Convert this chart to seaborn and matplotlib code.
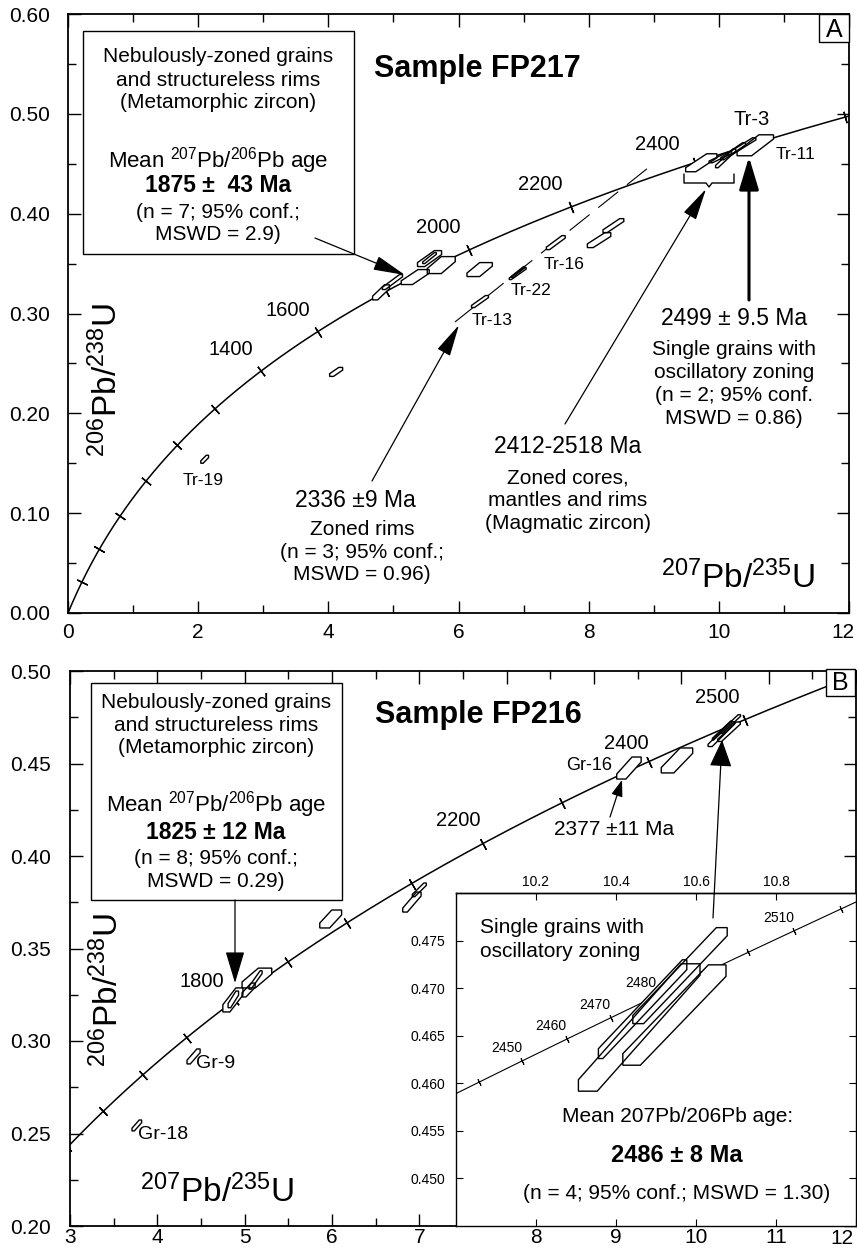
import numpy as np
import pandas as pd
import matplotlib
matplotlib.use("Agg")
import matplotlib.pyplot as plt
import seaborn as sns
from matplotlib.patches import Polygon, Rectangle, FancyArrowPatch, ArrowStyle
from matplotlib.lines import Line2D
from matplotlib.transforms import IdentityTransform

# ---------------------------------------------------------------- data
L238 = 1.55125e-10   # decay constants (1/yr)
L235 = 9.8485e-10

ticks_A = list(range(200, 2800, 200))        # concordia age marks (Ma)
labels_A = [1400, 1600, 2000, 2200, 2400]
ticks_B = list(range(1300, 2800, 100))
labels_B = [1800, 2200, 2400, 2500]
ticks_in = list(range(2420, 2550, 10))
labels_in = [2450, 2460, 2470, 2480, 2510]

# Panel A grains (FP217): 207Pb/235U range, 206Pb/238U range, corner cuts
A_x0 = [2.04, 4.02, 4.68, 4.83, 5.12, 5.37, 5.45, 5.52, 6.13, 6.20, 6.78, 6.81, 7.35, 7.98, 8.22, 9.49, 9.85, 9.95, 10.03, 10.15, 10.28]
A_x1 = [2.16, 4.22, 4.94, 5.14, 5.55, 5.74, 5.66, 5.95, 6.52, 6.46, 7.04, 7.02, 7.64, 8.34, 8.54, 9.97, 10.20, 10.26, 10.41, 10.57, 10.84]
A_y0 = [0.150, 0.237, 0.3136, 0.324, 0.329, 0.347, 0.350, 0.340, 0.337, 0.306, 0.334, 0.336, 0.364, 0.366, 0.381, 0.442, 0.451, 0.446, 0.454, 0.459, 0.458]
A_y1 = [0.158, 0.246, 0.3287, 0.339, 0.344, 0.363, 0.361, 0.357, 0.351, 0.318, 0.346, 0.347, 0.378, 0.381, 0.395, 0.460, 0.462, 0.465, 0.471, 0.476, 0.479]
A_a = [0.6, 0.6, 0.5, 0.3, 0.5, 0.5, 0.3, 0.6, 0.5, 0.35, 0.25, 0.2, 0.35, 0.5, 0.4, 0.45, 0.3, 0.25, 0.25, 0.25, 0.4]
A_b = [0.6, 0.6, 0.6, 0.3, 0.8, 0.6, 0.3, 1.0, 1.0, 0.35, 0.25, 0.2, 0.35, 0.5, 0.4, 0.65, 0.3, 0.25, 0.25, 0.25, 0.8]

# discordia reference line (panel A)
disc_x = [5.946, 8.912]
disc_y = [0.2915, 0.4458]

# Panel B grains (FP216)
B_x0 = [3.71, 4.34, 4.75, 4.81, 4.97, 4.97, 5.05, 5.86, 6.81, 6.92, 9.26, 9.77]
B_x1 = [3.82, 4.49, 4.98, 4.93, 5.12, 5.31, 5.20, 6.11, 7.02, 7.08, 9.54, 10.13]
B_y0 = [0.2514, 0.2876, 0.3157, 0.318, 0.3238, 0.3287, 0.328, 0.3611, 0.3697, 0.3780, 0.4416, 0.4449]
B_y1 = [0.2573, 0.2957, 0.3287, 0.327, 0.3313, 0.3394, 0.338, 0.3708, 0.3805, 0.3854, 0.4535, 0.4584]
B_a = [0.5, 0.5, 0.6, 0.5, 0.6, 0.6, 0.3, 0.55, 0.4, 0.35, 0.45, 0.43]
B_b = [0.5, 0.5, 0.7, 0.5, 0.6, 0.9, 0.3, 0.9, 0.5, 0.35, 0.75, 0.8]

# oscillatory-zoned single grains (shown in panel B and in the inset)
I_x0 = [10.442, 10.356, 10.306, 10.417]
I_x1 = [10.678, 10.577, 10.610, 10.675]
I_y0 = [0.46627, 0.46260, 0.45917, 0.46190]
I_y1 = [0.47636, 0.47298, 0.47256, 0.47245]
I_a = [0.17, 0.20, 0.18, 0.23]
I_b = [0.23, 0.10, 0.31, 0.34]

A_xticks = [0, 2, 4, 6, 8, 10, 12]
A_yticks = [0.0, 0.1, 0.2, 0.3, 0.4, 0.5, 0.6]
B_xticks = [3, 4, 5, 6, 7, 8, 9, 10, 11, 12]
B_yticks = [0.20, 0.25, 0.30, 0.35, 0.40, 0.45, 0.50]
In_xticks = [10.2, 10.4, 10.6, 10.8, 11.0]
In_bottom_labels = ["8", "9", "10", "11", "12"]
In_yticks = [0.450, 0.455, 0.460, 0.465, 0.470, 0.475]

# ---------------------------------------------------------------- style
sns.set_theme(style="ticks")
plt.rcParams["font.family"] = ["Liberation Sans", "DejaVu Sans"]
plt.rcParams.update({
    "mathtext.fontset": "custom",
    "mathtext.rm": "Liberation Sans",
    "mathtext.it": "Liberation Sans:italic",
    "mathtext.bf": "Liberation Sans:bold",
    "axes.edgecolor": "black",
    "axes.linewidth": 1.3,
    "xtick.color": "black",
    "ytick.color": "black",
    "text.color": "black",
    "axes.facecolor": "white",
    "figure.facecolor": "white",
})

W, H = 857, 1253
fig = plt.figure(figsize=(W / 100, H / 100), dpi=100)


def conc(t_ma):
    t = np.asarray(t_ma, dtype=float) * 1e6
    return np.exp(L235 * t) - 1, np.exp(L238 * t) - 1


def hexagon(x0, x1, y0, y1, a, b):
    xc, yc = (x0 + x1) / 2, (y0 + y1) / 2
    sx, sy = (x1 - x0) / 2, (y1 - y0) / 2
    uv = [(-1, -1), (-1, -1 + a), (1 - b, 1), (1, 1), (1, 1 - a), (-1 + b, -1)]
    return [(xc + u * sx, yc + v * sy) for u, v in uv]


def draw_grains(ax, x0s, x1s, y0s, y1s, as_, bs, lw=1.0):
    shapes = [hexagon(*g) for g in zip(x0s, x1s, y0s, y1s, as_, bs)]
    for s in shapes:
        ax.add_patch(Polygon(s, closed=True, fc="white", ec="none", zorder=3))
    for s in shapes:
        ax.add_patch(Polygon(s, closed=True, fill=False, ec="black", lw=lw, zorder=4))


def draw_concordia(ax, tmin, tmax, lw):
    t = np.linspace(tmin, tmax, 800)
    cx, cy = conc(t)
    df = pd.DataFrame({"x": cx, "y": cy})
    sns.lineplot(data=df, x="x", y="y", ax=ax, color="black", lw=lw,
                 sort=False, estimator=None, zorder=2)


def draw_conc_ticks(ax, ages, ms, lw):
    for t in ages:
        x, y = conc(t)
        x2, y2 = conc(t + 1)
        p = ax.transData.transform([(x, y), (x2, y2)])
        ang = np.degrees(np.arctan2(p[1, 1] - p[0, 1], p[1, 0] - p[0, 0]))
        ax.plot([x], [y], marker=(2, 2, ang), ms=ms, mew=lw, color="black",
                ls="none", zorder=2.5)


def label_conc(ax, ages, dx, dy, size):
    for t in ages:
        x, y = conc(t)
        ax.annotate(str(t), xy=(x, y), xytext=(dx, -dy), textcoords="offset pixels",
                    ha="center", va="center", fontsize=size, zorder=5)


def T(px, py, s, size, ha="center", va="baseline", weight="normal", rot=0):
    fig.text(px / W, 1 - py / H, s, fontsize=size, ha=ha, va=va,
             fontweight=weight, rotation=rot, zorder=6)


def arrow(p0, p1, lw=0.9, hl=2.0, hw=0.45, ms=10):
    st = ArrowStyle("-|>", head_length=hl, head_width=hw)
    fig.add_artist(FancyArrowPatch((p0[0], H - p0[1]), (p1[0], H - p1[1]),
                                   arrowstyle=st, mutation_scale=ms, lw=lw,
                                   color="black", transform=IdentityTransform(),
                                   shrinkA=0, shrinkB=0, zorder=5))


def pline(xs, ys, lw=1.0):
    fig.add_artist(Line2D(xs, [H - y for y in ys], transform=IdentityTransform(),
                          color="black", lw=lw, zorder=5))


def box(px0, py0, px1, py1, lw=1.0):
    fig.add_artist(Rectangle((px0 / W, 1 - py1 / H), (px1 - px0) / W, (py1 - py0) / H,
                             transform=fig.transFigure, fc="white", ec="black",
                             lw=lw, zorder=1))


def style_main(ax, xt, xminor, yt, yminor, xlabels, ylabels, xpad, ypad):
    ax.set_xticks(xt)
    ax.set_xticklabels(xlabels)
    ax.set_xticks(xminor, minor=True)
    ax.set_yticks(yt)
    ax.set_yticklabels(ylabels)
    ax.set_yticks(yminor, minor=True)
    ax.tick_params(which="both", direction="in", top=True, right=True,
                   bottom=True, left=True, width=1.0, colors="black")
    ax.tick_params(which="major", length=9)
    ax.tick_params(which="minor", length=5.5)
    ax.tick_params(axis="x", labelsize=15, pad=xpad)
    ax.tick_params(axis="y", labelsize=15, pad=ypad)
    ax.set_xlabel("")
    ax.set_ylabel("")
    for s in ax.spines.values():
        s.set_visible(True)
        s.set_color("black")


# ================================================================ Panel A
axA = fig.add_axes([68 / W, 1 - 613 / H, 781 / W, 599 / H])
axA.set_xlim(0, 12)
axA.set_ylim(0, 0.6)
draw_concordia(axA, 0, 2700, 1.1)
style_main(axA, A_xticks, np.arange(0, 12.01, 1.0), A_yticks, np.arange(0, 0.601, 0.05),
           [str(v) for v in A_xticks[:-1]] + [""], [f"{v:.2f}" for v in A_yticks], 7, 13)
axA.set_xlim(0, 12)
axA.set_ylim(0, 0.6)
draw_conc_ticks(axA, ticks_A, 8.5, 1.0)
label_conc(axA, labels_A[:2], -30, -21, 14.5)
label_conc(axA, labels_A[2:4], -31, -22, 14.5)
label_conc(axA, labels_A[4:], -37, -18, 14.5)
axA.plot(disc_x, disc_y, color="black", lw=0.8, dashes=(23, 10), zorder=2)
draw_grains(axA, A_x0, A_x1, A_y0, A_y1, A_a, A_b, lw=1.0)

# ================================================================ Panel B
axB = fig.add_axes([70 / W, 1 - 1226 / H, 786 / W, 555 / H])
axB.set_xlim(3, 12)
axB.set_ylim(0.2, 0.5)
draw_concordia(axB, 1300, 2700, 1.1)
style_main(axB, B_xticks, np.arange(3, 12.01, 0.5), B_yticks, np.arange(0.2, 0.501, 0.025),
           [str(v) for v in B_xticks[:5]] + [""] * 5, [f"{v:.2f}" for v in B_yticks], 1.5, 14)
axB.set_xlim(3, 12)
axB.set_ylim(0.2, 0.5)
draw_conc_ticks(axB, ticks_B, 8.5, 1.0)
label_conc(axB, [labels_B[0]], -33, -19, 14.5)
label_conc(axB, [labels_B[1]], -25, -23, 14.5)
label_conc(axB, [labels_B[2]], -23, -18, 14.5)
label_conc(axB, [labels_B[3]], -28, -22, 14.5)
draw_grains(axB, B_x0 + I_x0, B_x1 + I_x1, B_y0 + I_y0, B_y1 + I_y1, B_a + I_a, B_b + I_b, lw=1.0)

# ================================================================ Inset
axI = fig.add_axes([456 / W, 1 - 1226 / H, 400 / W, 333 / H])
axI.set_facecolor("white")
axI.set_xlim(10.0, 11.0)
axI.set_ylim(0.445, 0.480)
draw_concordia(axI, 2400, 2560, 0.8)
axI.set_xlim(10.0, 11.0)
axI.set_ylim(0.445, 0.480)
axI.set_xlabel("")
axI.set_ylabel("")
for s in axI.spines.values():
    s.set_visible(True)
    s.set_color("black")
    s.set_linewidth(1.0)
axI.set_xticks(In_xticks)
axI.set_xticklabels(In_bottom_labels[:-1] + [""])
axI.set_yticks(In_yticks)
axI.set_yticklabels([f"{v:.3f}" for v in In_yticks])
axI.tick_params(which="both", direction="in", left=True, right=True, bottom=True,
                top=False, length=5, width=0.8, colors="black")
axI.tick_params(axis="x", labelsize=15, pad=1.5)
axI.tick_params(axis="y", labelsize=10, pad=8)
sec = axI.secondary_xaxis("top")
sec.set_xticks(In_xticks[:-1])
sec.set_xticklabels([f"{v:.1f}" for v in In_xticks[:-1]])
sec.tick_params(direction="in", length=5, width=0.8, labelsize=10, pad=3, colors="black")
sec.spines["top"].set_linewidth(1.0)
draw_conc_ticks(axI, ticks_in, 5, 0.7)
label_conc(axI, labels_in, -16, -13, 10)
draw_grains(axI, I_x0, I_x1, I_y0, I_y1, I_a, I_b, lw=1.0)

# ================================================================ annotations A
T(477, 77, "Sample FP217", 22, weight="bold")
box(819, 14, 849, 42)
T(834, 37, "A", 18)
box(83, 31, 354, 254)
T(218, 62, "Nebulously-zoned grains", 15)
T(218, 86, "and structureless rims", 15)
T(218, 108, "(Metamorphic zircon)", 15)
T(218, 167, r"Mean $^{207}$Pb/$^{206}$Pb age", 16)
T(218, 192, "1875 \u00b1  43 Ma", 16.5, weight="bold")
T(218, 218, "(n = 7; 95% conf.;", 15)
T(218, 240, "MSWD = 2.9)", 15)
arrow((315, 238), (405, 275), lw=0.9, hl=2.0, hw=0.45, ms=10)

T(734, 325, "2499 \u00b1 9.5 Ma", 16.5)
T(734, 355, "Single grains with", 15)
T(734, 378, "oscillatory zoning", 15)
T(734, 401, "(n = 2; 95% conf.", 15)
T(734, 424, "MSWD = 0.86)", 15)
arrow((749, 300), (749, 157), lw=2.2, hl=2.0, hw=0.6, ms=10)

T(568, 453, "2412-2518 Ma", 16.5)
T(568, 483, "Zoned cores,", 15)
T(568, 506, "mantles and rims", 15)
T(568, 529, "(Magmatic zircon)", 15)
arrow((565, 424), (706, 189), lw=0.9, hl=2.0, hw=0.45, ms=10)
pline([684, 684, 706, 709, 712, 734, 734], [174, 183, 183, 187, 183, 183, 174], lw=1.0)

T(355, 507, "2336 \u00b19 Ma", 16.5)
T(362, 535, "Zoned rims", 15)
T(362, 558, "(n = 3; 95% conf.;", 15)
T(362, 580, "MSWD = 0.96)", 15)
arrow((372, 481), (459, 325), lw=0.9, hl=2.0, hw=0.45, ms=10)

T(738, 588, r"$^{207}$Pb/$^{235}$U", 24)
T(107, 380, r"$^{206}$Pb/$^{238}$U", 24, va="center", rot=90)
T(843, 623, "12", 15, va="top")

T(752, 125, "Tr-3", 14.5)
T(795, 159, "Tr-11", 12.5)
T(564, 269, "Tr-16", 12.5)
T(531, 295, "Tr-22", 12.5)
T(492, 325, "Tr-13", 12.5)
T(203, 485, "Tr-19", 12.5)

# ================================================================ annotations B
T(478, 723, "Sample FP216", 22, weight="bold")
box(826, 669, 855, 696)
T(840, 690, "B", 18)
box(91, 683, 342, 900)
T(216, 708, "Nebulously-zoned grains", 15)
T(216, 731, "and structureless rims", 15)
T(216, 753, "(Metamorphic zircon)", 15)
T(216, 812, r"Mean $^{207}$Pb/$^{206}$Pb age", 16)
T(216, 839, "1825 \u00b1 12 Ma", 16.5, weight="bold")
T(216, 864, "(n = 8; 95% conf.;", 15)
T(216, 887, "MSWD = 0.29)", 15)
arrow((235, 900), (235, 983), lw=0.9, hl=2.0, hw=0.6, ms=10)

T(614, 835, "2377 \u00b111 Ma", 15)
arrow((610, 817), (622, 780), lw=0.9, hl=1.0, hw=0.35, ms=10)
T(589, 770, "Gr-16", 13)
T(216, 1068, "Gr-9", 14)
T(163, 1139, "Gr-18", 14)
arrow((713, 918), (722, 740), lw=0.9, hl=1.7, hw=0.7, ms=10)

T(217, 1202, r"$^{207}$Pb/$^{235}$U", 24)
T(108, 990, r"$^{206}$Pb/$^{238}$U", 24, va="center", rot=90)
T(842, 1229, "12", 15, va="top")

T(480, 933, "Single grains with", 15, ha="left")
T(480, 957, "oscillatory zoning", 15, ha="left")
T(678, 1122, "Mean 207Pb/206Pb age:", 15)
T(677, 1162, "2486 \u00b1 8 Ma", 17, weight="bold")
T(677, 1199, "(n = 4; 95% conf.; MSWD = 1.30)", 15)

fig.savefig("out.png", dpi=100)
